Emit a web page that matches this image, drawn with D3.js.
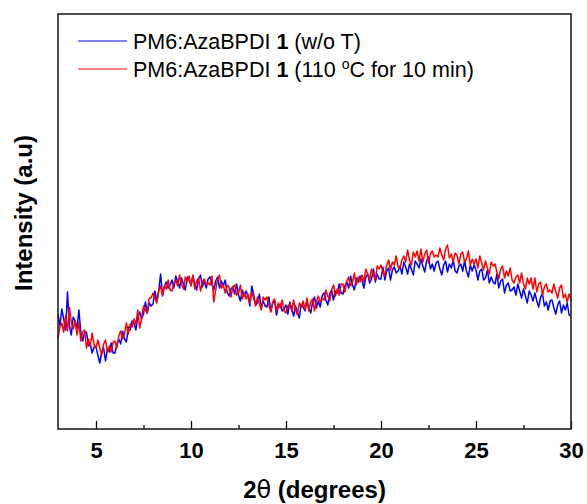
<!DOCTYPE html>
<html>
<head>
<meta charset="utf-8">
<script src="https://cdn.jsdelivr.net/npm/d3@7"></script>
<style>
  body { margin: 0; background: #fff; }
  svg { display: block; font-family: "Liberation Sans", Arial, sans-serif; }
</style>
</head>
<body>
<script>
// 2theta sampling: 3.0 to 30.0 deg, 0.1 deg apart
const thetaStart = 3, thetaStep = 0.1;

// PM6:AzaBPDI 1 (w/o T), intensity in a.u.
const blueSeries = [
  115,103,120,110,99,137,103,94,112,108,
  101,119,97,88,96,97,83,85,76,82,
  82,74,66,77,81,68,80,77,86,76,
  76,85,90,85,98,90,87,102,99,108,
  106,99,112,117,110,115,127,116,126,123,
  125,138,128,138,155,133,143,147,141,144,
  149,141,153,148,141,151,145,139,152,149,
  144,153,145,139,150,154,142,148,141,150,
  152,145,139,148,152,141,148,143,149,137,
  133,140,142,135,145,134,128,139,133,138,
  133,123,143,134,124,126,135,121,128,123,
  122,132,118,126,128,114,123,125,118,120,
  124,115,127,120,113,123,117,111,125,122,
  118,128,121,116,127,132,121,128,122,133,
  136,129,124,135,139,129,138,136,145,136,
  135,143,147,141,153,144,139,151,147,153,
  149,141,152,155,146,150,160,147,155,150,
  150,162,149,158,161,149,159,162,156,158,
  163,155,167,162,155,165,160,154,168,165,
  161,170,163,157,168,172,160,165,158,166,
  168,160,154,164,168,157,165,161,169,158,
  156,163,165,158,168,158,152,164,158,164,
  159,149,158,160,149,151,159,146,152,147,
  145,155,141,148,150,136,144,146,138,139,
  142,134,145,138,131,140,133,126,138,134,
  128,136,128,122,132,135,123,127,119,128,
  129,121,115,124,128,116,124,119,126,114,
  113
];

// PM6:AzaBPDI 1 (110 oC for 10 min)
const redSeries = [
  90,102,106,97,113,98,122,107,100,108,
  94,107,88,97,99,81,90,83,96,84,
  81,89,81,74,85,89,77,83,77,87,
  88,81,93,98,90,95,106,95,105,102,
  110,105,119,101,111,123,119,116,131,131,
  136,131,126,138,143,134,143,140,149,139,
  138,146,149,143,154,145,140,152,147,153,
  143,154,140,148,151,138,147,150,144,146,
  144,153,127,139,150,154,141,144,136,144,
  142,132,142,144,134,136,144,130,136,130,
  135,126,137,131,123,132,126,119,132,129,
  132,124,117,127,130,118,126,121,129,118,
  116,123,125,118,129,119,114,126,122,128,
  119,131,118,127,130,118,128,133,127,130,
  129,139,133,128,139,144,133,140,134,145,
  145,137,148,152,143,147,156,144,152,147,
  154,147,160,155,149,160,154,149,163,160,
  164,158,153,164,169,159,167,164,173,162,
  161,169,173,167,179,169,164,177,172,178,
  168,180,167,175,179,166,175,178,172,174,
  172,181,174,169,180,184,171,175,167,176,
  174,165,175,177,167,170,178,164,170,165,
  170,161,173,166,159,168,161,155,167,163,
  165,157,150,160,163,151,158,153,161,149,
  146,152,154,146,156,145,140,151,145,151,
  140,151,137,145,147,134,142,145,137,139,
  136,145,137,131,141,144,131,135,127,135,
  129
];

const seriesNames = ["PM6:AzaBPDI ", "PM6:AzaBPDI "];
const seriesColors = ["#0000ff", "#ff0000"];

const majorTicks = [5, 10, 15, 20, 25, 30];
const minorTicks = [7.5, 12.5, 17.5, 22.5, 27.5];

const width = 587, height = 504;
const margin = {top: 14, right: 16, bottom: 75, left: 58};

const svg = d3.select("body").append("svg")
    .attr("width", width)
    .attr("height", height);

const x = d3.scaleLinear()
    .domain([3, 30])
    .range([margin.left, width - margin.right]);

const y = d3.scaleLinear()
    .domain([0, 415])
    .range([height - margin.bottom, margin.top]);

const toPoints = arr => arr.map((v, i) => ({t: thetaStart + i * thetaStep, v: v}));

const line = d3.line()
    .x(d => x(d.t))
    .y(d => y(d.v));

[blueSeries, redSeries].forEach((s, k) => {
  svg.append("path")
      .datum(toPoints(s))
      .attr("fill", "none")
      .attr("stroke", seriesColors[k])
      .attr("stroke-width", 1.5)
      .attr("stroke-linejoin", "round")
      .attr("d", line);
});

// minor ticks
svg.append("g")
    .attr("transform", `translate(0,${height - margin.bottom})`)
    .call(d3.axisBottom(x).tickValues(minorTicks).tickSize(-4).tickFormat(""))
    .call(g => g.select(".domain").remove())
    .call(g => g.selectAll("line").attr("stroke", "#000").attr("stroke-width", 1.3));

// major ticks + labels
svg.append("g")
    .attr("transform", `translate(0,${height - margin.bottom})`)
    .call(d3.axisBottom(x).tickValues(majorTicks).tickSize(-8).tickPadding(13).tickFormat(d3.format("d")))
    .call(g => g.select(".domain").remove())
    .call(g => g.selectAll("line").attr("stroke", "#000").attr("stroke-width", 1.3))
    .call(g => g.selectAll("text")
        .attr("fill", "#000")
        .style("font-family", "'Liberation Sans', Arial, sans-serif")
        .style("font-size", "22px")
        .style("font-weight", "bold"));

// frame
svg.append("rect")
    .attr("x", margin.left)
    .attr("y", margin.top)
    .attr("width", width - margin.left - margin.right)
    .attr("height", height - margin.top - margin.bottom)
    .attr("fill", "none")
    .attr("stroke", "#222")
    .attr("stroke-width", 1.6);

// axis titles
const xt = svg.append("text")
    .attr("x", (margin.left + width - margin.right) / 2)
    .attr("y", 498)
    .attr("text-anchor", "middle")
    .style("font-size", "24px")
    .style("font-weight", "bold");
xt.append("tspan").text("2");
xt.append("tspan").style("font-family", "'DejaVu Sans', sans-serif").style("font-weight", "normal").text("θ");
xt.append("tspan").text(" (degrees)");

svg.append("text")
    .attr("transform", "translate(32,213) rotate(-90)")
    .attr("text-anchor", "middle")
    .style("font-size", "24px")
    .style("font-weight", "bold")
    .text("Intensity (a.u)");

// legend
const legend = svg.append("g");
const rows = [41, 69];
rows.forEach((ly, k) => {
  legend.append("line")
      .attr("x1", 78).attr("x2", 127)
      .attr("y1", ly).attr("y2", ly)
      .attr("stroke", seriesColors[k])
      .attr("stroke-width", 1.2);
  const t = legend.append("text")
      .attr("x", 133)
      .attr("y", ly + 8)
      .style("font-size", "21.5px");
  t.append("tspan").text(seriesNames[k]);
  t.append("tspan").style("font-weight", "bold").text("1");
  if (k === 0) {
    t.append("tspan").text(" (w/o T)");
  } else {
    t.append("tspan").text(" (110 ");
    t.append("tspan").attr("dy", -8).style("font-size", "14px").text("o");
    t.append("tspan").attr("dy", 8).text("C for 10 min)");
  }
});
</script>
</body>
</html>
